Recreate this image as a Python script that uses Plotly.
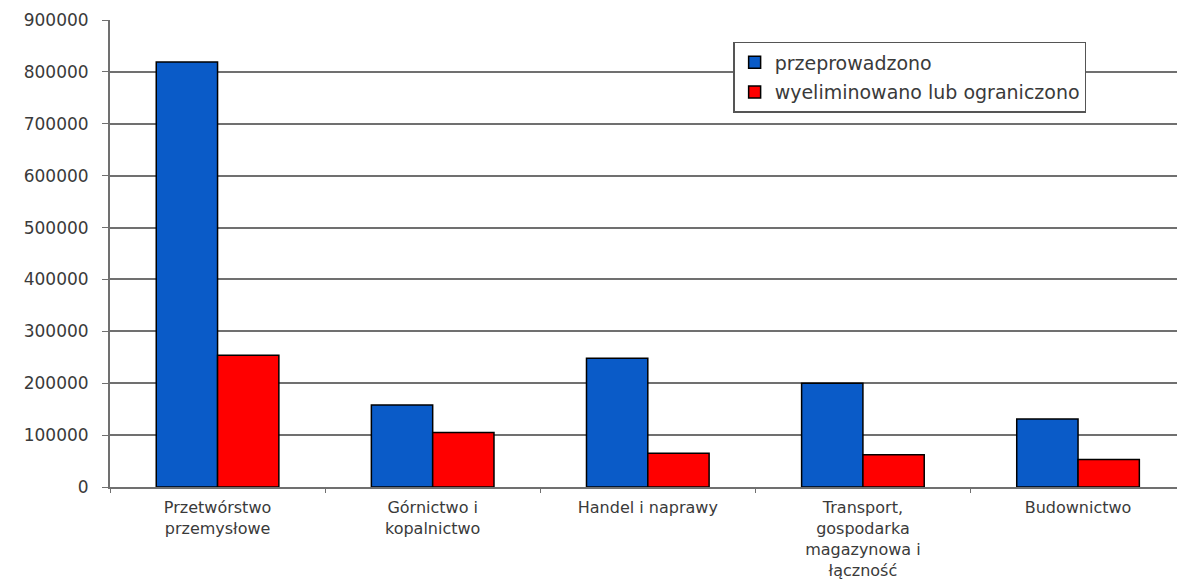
import plotly.graph_objects as go

categories = [
    "Przetwórstwo<br>przemysłowe",
    "Górnictwo i<br>kopalnictwo",
    "Handel i naprawy",
    "Transport,<br>gospodarka<br>magazynowa i<br>łączność",
    "Budownictwo",
]
przeprowadzono = [819000, 158000, 248000, 200000, 131000]
wyeliminowano = [254000, 105000, 65000, 62000, 53000]

series_names = ["przeprowadzono", "wyeliminowano lub ograniczono"]
series_colors = ["#0A5BC8", "#FF0000"]

FONT = "DejaVu Sans"
TEXT_COLOR = "#3a3a3a"
GRID_COLOR = "#707070"

fig = go.Figure()
for name, values, color in zip(series_names, [przeprowadzono, wyeliminowano], series_colors):
    fig.add_trace(go.Bar(
        x=categories,
        y=values,
        name=name,
        legendgroup=name,
        marker=dict(color=color, line=dict(color="#000000", width=1.5)),
    ))

fig.update_layout(
    width=1177,
    height=584,
    margin=dict(l=110, r=0, t=20, b=97),
    paper_bgcolor="white",
    plot_bgcolor="white",
    barmode="group",
    bargap=0.43,
    bargroupgap=0,
    font=dict(family=FONT, size=16, color=TEXT_COLOR),
    showlegend=True,
    legend=dict(
        x=0.584, y=0.953, xanchor="left", yanchor="top",
        bgcolor="white", bordercolor="#555555", borderwidth=1.5,
        font=dict(family=FONT, size=19, color=TEXT_COLOR),
        traceorder="grouped", tracegroupgap=2, itemwidth=30,
    ),
    xaxis=dict(
        range=[-0.5, 4.46],
        showline=True, linecolor=GRID_COLOR, linewidth=2,
        ticks="outside", ticklen=4, tickcolor=GRID_COLOR,
        tickson="boundaries", ticklabelstandoff=5,
        tickfont=dict(family=FONT, size=16, color=TEXT_COLOR),
        showgrid=False,
    ),
    yaxis=dict(
        range=[0, 900000], dtick=100000, tickformat="d",
        showline=True, linecolor=GRID_COLOR, linewidth=2,
        ticks="outside", ticklen=6, tickcolor=GRID_COLOR,
        ticklabelstandoff=10,
        showgrid=True, gridcolor=GRID_COLOR, gridwidth=2,
        zeroline=False,
        tickfont=dict(family=FONT, size=17, color=TEXT_COLOR),
    ),
)

fig.write_html("out.html")
